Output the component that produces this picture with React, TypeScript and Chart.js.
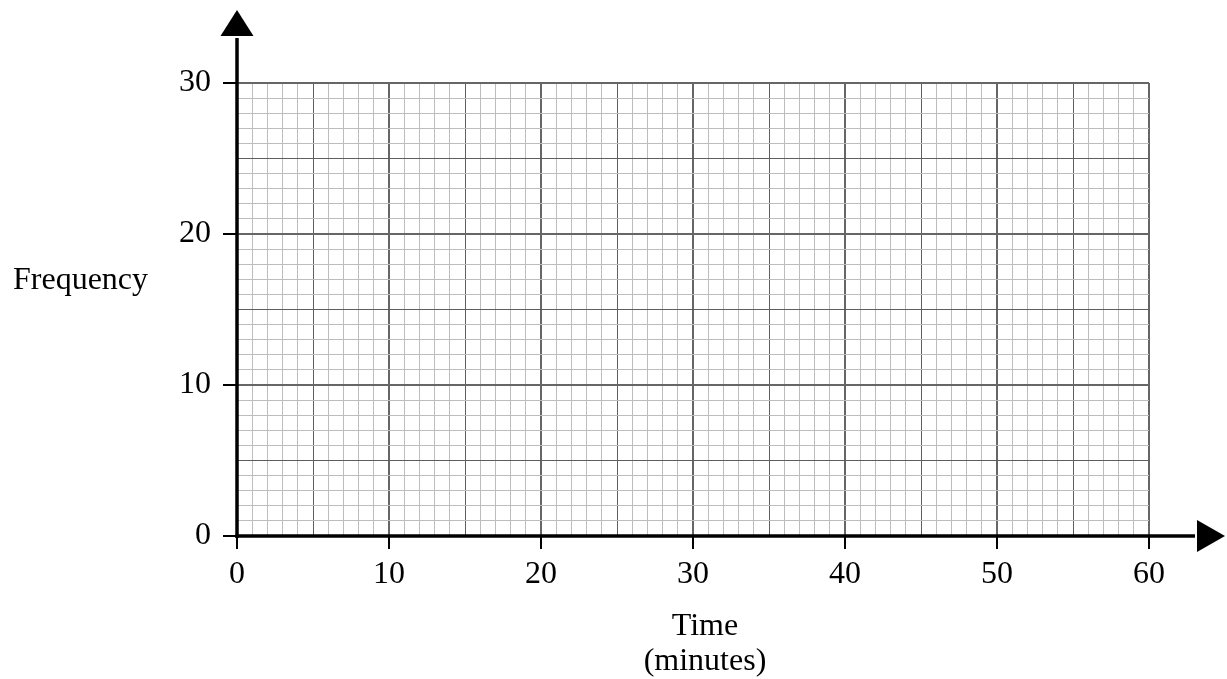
import React, { useEffect, useRef } from "react";
import { Chart, registerables } from "chart.js";

Chart.register(...registerables);

const xMin = 0;
const xMax = 60;
const yMin = 0;
const yMax = 30;
const xLabelStep = 10;
const yLabelStep = 10;
const minorStep = 1;
const mediumStep = 5;
const yTitle = "Frequency";
const xTitleLines = ["Time", "(minutes)"];

const FONT = "'Liberation Serif', 'Times New Roman', serif";

const gridColor = (v: number) =>
  v % 10 === 0 ? "#666666" : v % mediumStep === 0 ? "#5e5e5e" : "#bdbdbd";
const gridWidth = (v: number) => (v % 10 === 0 ? 2 : 1);

const axesPlugin = {
  id: "axesArrows",
  afterDraw(chart: any) {
    const { ctx } = chart;
    const xs = chart.scales.x;
    const ys = chart.scales.y;
    const x0 = xs.getPixelForValue(xMin);
    const y0 = ys.getPixelForValue(yMin);
    const yTop = ys.getPixelForValue(yMax);
    const xRight = xs.getPixelForValue(xMax);
    ctx.save();
    ctx.strokeStyle = "#000";
    ctx.fillStyle = "#000";
    ctx.lineWidth = 3.5;
    // y axis
    const yArrowBase = yTop - 47;
    ctx.beginPath();
    ctx.moveTo(x0, y0 + 2);
    ctx.lineTo(x0, yArrowBase + 2);
    ctx.stroke();
    ctx.beginPath();
    ctx.moveTo(x0 - 16.5, yArrowBase);
    ctx.lineTo(x0 + 16.5, yArrowBase);
    ctx.lineTo(x0, yArrowBase - 26);
    ctx.closePath();
    ctx.fill();
    // x axis
    const xArrowBase = xRight + 48;
    ctx.beginPath();
    ctx.moveTo(x0 - 1.5, y0);
    ctx.lineTo(xArrowBase - 2, y0);
    ctx.stroke();
    ctx.beginPath();
    ctx.moveTo(xArrowBase, y0 - 16);
    ctx.lineTo(xArrowBase, y0 + 16);
    ctx.lineTo(xArrowBase + 28, y0);
    ctx.closePath();
    ctx.fill();
    // titles
    ctx.font = `32px ${FONT}`;
    ctx.textAlign = "left";
    ctx.textBaseline = "alphabetic";
    ctx.fillText(yTitle, 13, 289);
    ctx.textAlign = "center";
    const cx = (x0 + xRight) / 2 + 12;
    ctx.fillText(xTitleLines[0], cx, y0 + 99);
    ctx.fillText(xTitleLines[1], cx, y0 + 134);
    ctx.restore();
  },
};

export default function App() {
  const ref = useRef<HTMLCanvasElement | null>(null);
  useEffect(() => {
    if (!ref.current) return;
    const chart = new Chart(ref.current, {
      type: "scatter",
      data: { datasets: [{ data: [] as any[] }] },
      options: {
        animation: false,
        responsive: true,
        maintainAspectRatio: false,
        layout: { padding: { top: 83, right: 78, bottom: 0, left: 0 } },
        plugins: { legend: { display: false }, tooltip: { enabled: false } },
        scales: {
          x: {
            type: "linear",
            min: xMin,
            max: xMax,
            afterFit: (s: any) => {
              s.height = 143;
            },
            border: { display: false },
            grid: {
              color: (c: any) => gridColor(c.tick.value),
              lineWidth: (c: any) => gridWidth(c.tick.value),
              tickColor: (c: any) => (c.tick.value % xLabelStep === 0 ? "#000" : "rgba(0,0,0,0)"),
              tickWidth: 2,
              tickLength: 13,
            },
            ticks: {
              stepSize: minorStep,
              autoSkip: false,
              maxRotation: 0,
              padding: 6,
              color: "#000",
              font: { family: FONT, size: 32 },
              callback: (v: any) => (Number(v) % xLabelStep === 0 ? String(v) : ""),
            },
          },
          y: {
            type: "linear",
            min: yMin,
            max: yMax,
            afterFit: (s: any) => {
              s.width = 237;
            },
            border: { display: false },
            grid: {
              color: (c: any) => gridColor(c.tick.value),
              lineWidth: (c: any) => gridWidth(c.tick.value),
              tickColor: (c: any) => (c.tick.value % yLabelStep === 0 ? "#000" : "rgba(0,0,0,0)"),
              tickWidth: 2,
              tickLength: 14,
            },
            ticks: {
              stepSize: minorStep,
              autoSkip: false,
              padding: 12,
              color: "#000",
              font: { family: FONT, size: 32 },
              callback: (v: any) => (Number(v) % yLabelStep === 0 ? String(v) : ""),
            },
          },
        },
      },
      plugins: [axesPlugin],
    });
    return () => chart.destroy();
  }, []);
  return (
    <div style={{ position: "absolute", left: 0, top: 0, width: 1227, height: 679, background: "#fff" }}>
      <canvas ref={ref} />
    </div>
  );
}
